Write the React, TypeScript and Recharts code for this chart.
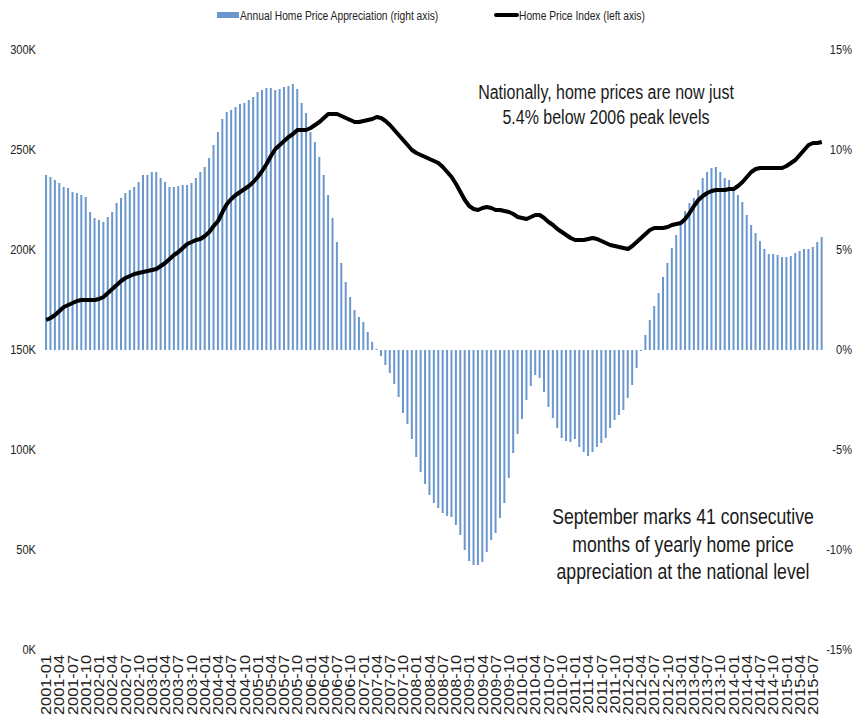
import { ComposedChart, Bar, Line, XAxis, YAxis } from "recharts";

// monthly, 2001-01 .. 2015-09
const startYear = 2001;
const monthCount = 177;
const months: string[] = [];
for (let i = 0; i < monthCount; i++) {
  const y = startYear + Math.floor(i / 12);
  const m = (i % 12) + 1;
  months.push(`${y}-${m < 10 ? "0" + m : m}`);
}

// Annual Home Price Appreciation, % (right axis)
const appreciation = [
  8.75, 8.65, 8.5, 8.35, 8.15, 8.1, 7.9, 7.85, 7.75, 7.65, 6.9, 6.6,
  6.5, 6.4, 6.65, 6.9, 7.35, 7.6, 7.85, 8.0, 8.15, 8.4, 8.75, 8.75,
  8.9, 8.9, 8.6, 8.4, 8.15, 8.15, 8.2, 8.25, 8.25, 8.35, 8.6, 8.9,
  9.15, 9.6, 10.25, 10.9, 11.55, 11.9, 12.0, 12.15, 12.3, 12.35, 12.5, 12.65,
  12.9, 13.0, 13.1, 13.1, 13.0, 13.05, 13.15, 13.2, 13.3, 13.05, 12.35, 11.85,
  10.9, 10.4, 9.65, 8.75, 7.75, 6.6, 5.4, 4.35, 3.4, 2.65, 2.0, 1.65,
  1.4, 0.9, 0.4, 0.05, -0.3, -0.75, -1.15, -1.7, -2.35, -3.15, -3.7, -4.45,
  -5.35, -6.1, -6.7, -7.25, -7.65, -7.9, -8.15, -8.3, -8.35, -8.75, -9.25, -10.0,
  -10.55, -10.75, -10.75, -10.6, -10.1, -9.5, -9.15, -8.4, -7.65, -6.4, -5.15, -4.2,
  -3.45, -2.5, -1.8, -1.25, -1.4, -2.1, -2.85, -3.4, -3.9, -4.4, -4.55, -4.6,
  -4.45, -4.85, -5.1, -5.3, -5.1, -4.85, -4.65, -4.4, -3.9, -3.5, -3.25, -3.0,
  -2.4, -1.75, -0.9, -0.05, 0.75, 1.5, 2.2, 2.85, 3.65, 4.35, 5.1, 5.75,
  6.35, 6.95, 7.35, 7.6, 8.0, 8.6, 8.9, 9.1, 9.15, 8.9, 8.6, 8.5,
  8.1, 7.75, 7.4, 6.75, 6.25, 5.85, 5.45, 5.05, 4.8, 4.8, 4.75, 4.65,
  4.65, 4.7, 4.85, 4.95, 5.05, 5.05, 5.15, 5.4, 5.65,
];

// Home Price Index, thousands (left axis)
const hpi = [
  165, 166, 167.5, 169.5, 171.5, 172.5, 173.5, 174.5, 175, 175, 175, 175,
  175.5, 176.5, 178.5, 180.5, 182.5, 184.5, 186, 187, 188, 188.5, 189, 189.5,
  190, 190.5, 192, 193.5, 195.5, 197.5, 199, 201, 203, 204, 205, 205.5,
  207, 209, 212, 214.5, 219, 223, 225.5, 227.5, 229, 230.5, 232, 234,
  236.5, 239.5, 243, 247, 250.5, 252.5, 254.5, 256.5, 258, 260, 260, 260,
  261, 262.5, 264, 266, 268, 268, 268, 267, 266, 265, 264, 264,
  264.5, 265, 265.5, 266.5, 266, 264.5, 262.5, 260, 257.5, 255, 252.5, 250,
  248.5, 247.5, 246.5, 245.5, 244.5, 243.5, 241.5, 239, 236.5, 233, 229, 225,
  222, 220.5, 220, 221, 221.5, 221, 220, 220, 219.5, 219, 218, 216.5,
  216, 215.5, 216.5, 217.5, 217.5, 216, 214, 212.5, 210.5, 209, 207.5, 206,
  205, 205, 205, 205.5, 206, 205.5, 204.5, 203.5, 202.5, 202, 201.5, 201,
  200.5, 202, 204, 206, 208, 210, 211, 211, 211, 211.5, 212.5, 213,
  213.5, 215.5, 218.5, 222, 225, 227, 228.5, 229.5, 230, 230, 230, 230.5,
  230.5, 232, 234, 236.5, 239, 240.5, 241, 241, 241, 241, 241, 241,
  242, 243.5, 245, 247.5, 250, 252.5, 253.5, 253.5, 254,
];

const leftTicks = [0, 50, 100, 150, 200, 250, 300];
const rightTicks = [-15, -10, -5, 0, 5, 10, 15];

const data = months.map((month, i) => ({
  month,
  appreciation: appreciation[i],
  hpi: hpi[i],
}));

const font = '"Liberation Sans", Arial, sans-serif';
const barColor = "#6b97cf";
const squeeze = 0.82; // the source picture is stretched vertically, text looks condensed

const LeftTick = ({ y, payload }: any) => (
  <text
    transform={`translate(36, ${y}) scale(${squeeze}, 1)`}
    textAnchor="end"
    dominantBaseline="central"
    fontSize={13.5}
    fontFamily={font}
    fill="#222"
  >
    {`${payload.value}K`}
  </text>
);

const RightTick = ({ y, payload }: any) => (
  <text
    transform={`translate(852, ${y}) scale(${squeeze}, 1)`}
    textAnchor="end"
    dominantBaseline="central"
    fontSize={13.5}
    fontFamily={font}
    fill="#222"
  >
    {`${payload.value}%`}
  </text>
);

const MonthTick = ({ x, payload }: any) => (
  <text
    transform={`translate(${x}, 655) rotate(-90) scale(1.17, 1)`}
    textAnchor="end"
    dominantBaseline="central"
    fontSize={14}
    fontFamily={font}
    fill="#222"
  >
    {payload.value}
  </text>
);

const textBox = (left: number, top: number, size: number, origin: string): any => ({
  position: "absolute",
  left,
  top,
  fontFamily: font,
  fontSize: size,
  whiteSpace: "nowrap",
  transform: `scaleX(${squeeze})`,
  transformOrigin: origin,
});

export default function App() {
  return (
    <div style={{ position: "relative", width: 861, height: 722, background: "#fff" }}>
      <style>{`body{margin:0}`}</style>
      <ComposedChart
        width={861}
        height={722}
        data={data}
        margin={{ top: 50, right: 0, bottom: 0, left: 0 }}
        barCategoryGap="24%"
      >
        <XAxis
          dataKey="month"
          interval={2}
          axisLine={false}
          tickLine={false}
          height={72}
          tick={<MonthTick />}
        />
        <YAxis
          yAxisId="left"
          orientation="left"
          width={44}
          domain={[0, 300]}
          ticks={leftTicks}
          axisLine={false}
          tickLine={false}
          tick={<LeftTick />}
        />
        <YAxis
          yAxisId="right"
          orientation="right"
          width={37}
          domain={[-15, 15]}
          ticks={rightTicks}
          axisLine={false}
          tickLine={false}
          tick={<RightTick />}
        />
        <Bar yAxisId="right" dataKey="appreciation" fill={barColor} isAnimationActive={false} />
        <Line
          yAxisId="left"
          dataKey="hpi"
          type="linear"
          stroke="#000"
          strokeWidth={4}
          dot={false}
          strokeLinejoin="round"
          isAnimationActive={false}
        />
      </ComposedChart>

      {/* legend */}
      <div style={{ position: "absolute", left: 217, top: 12, width: 22, height: 6, background: barColor }} />
      <div style={{ ...textBox(240, 7, 12.5, "left center"), lineHeight: "18px", color: "#222" }}>
        Annual Home Price Appreciation (right axis)
      </div>
      <div style={{ position: "absolute", left: 494, top: 13, width: 25, height: 4, background: "#000", borderRadius: 2 }} />
      <div style={{ ...textBox(519, 7, 12.5, "left center"), lineHeight: "18px", color: "#222" }}>
        Home Price Index (left axis)
      </div>

      {/* annotations */}
      <div style={{ ...textBox(406, 80, 19.5, "center top"), width: 400, textAlign: "center", lineHeight: "25px", color: "#1a1a1a" }}>
        Nationally, home prices are now just
        <br />
        5.4% below 2006 peak levels
      </div>
      <div style={{ ...textBox(483, 504, 21.5, "center top"), width: 400, textAlign: "center", lineHeight: "27.5px", color: "#1a1a1a" }}>
        September marks 41 consecutive
        <br />
        months of yearly home price
        <br />
        appreciation at the national level
      </div>
    </div>
  );
}
